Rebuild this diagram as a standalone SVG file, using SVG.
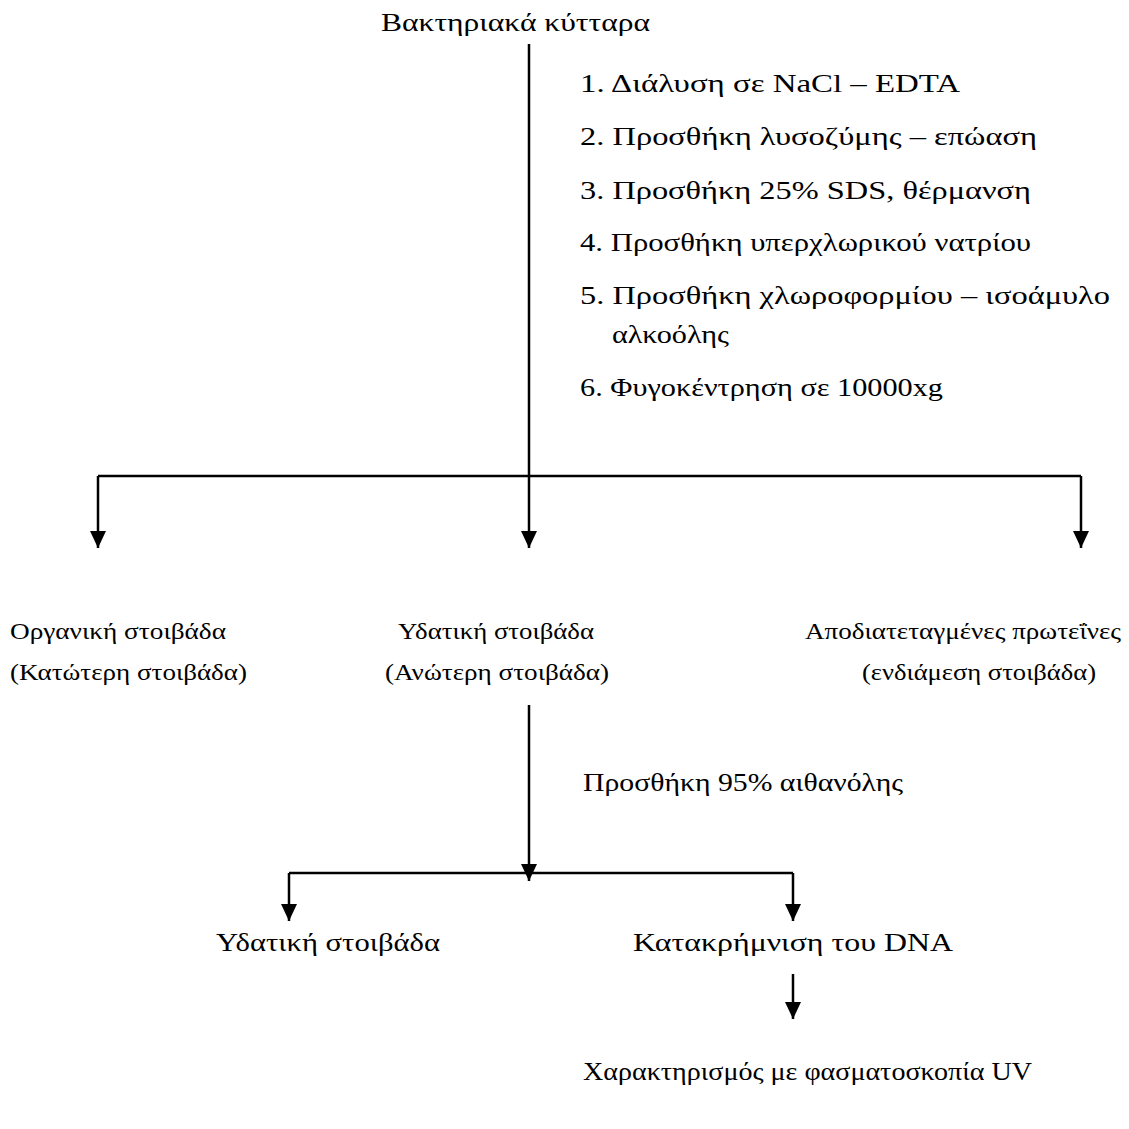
<svg xmlns="http://www.w3.org/2000/svg" width="1129" height="1129" viewBox="0 0 1129 1129">
<defs>
<style>
.t{font-family:"Liberation Serif","Times New Roman",serif;font-size:26px;fill:#000}
.s{font-family:"Liberation Serif","Times New Roman",serif;font-size:22.5px;fill:#000}
.c{stroke:#000;stroke-width:2.5;fill:none}
.a{marker-end:url(#ah)}
</style>
<marker id="ah" markerWidth="17" markerHeight="16" viewBox="0 0 17 16" refX="17" refY="8" orient="auto" markerUnits="userSpaceOnUse">
<path d="M0,0 L17,8 L0,16 Z" fill="#000"/>
</marker>
</defs>
<rect width="1129" height="1129" fill="#fff"/>
<g id="connectors">
<line class="c" x1="529" y1="44" x2="529" y2="476"/>
<line class="c" x1="98" y1="476" x2="1081" y2="476"/>
<line class="c a" x1="98" y1="476" x2="98" y2="548"/>
<line class="c a" x1="529" y1="476" x2="529" y2="548"/>
<line class="c a" x1="1081" y1="476" x2="1081" y2="548"/>
<line class="c a" x1="529" y1="705" x2="529" y2="881"/>
<line class="c" x1="289" y1="873" x2="793" y2="873"/>
<line class="c a" x1="289" y1="873" x2="289" y2="921"/>
<line class="c a" x1="793" y1="873" x2="793" y2="921"/>
<line class="c a" x1="793" y1="974" x2="793" y2="1019"/>
</g>
<g id="n-start"><text class="t" x="381" y="31" textLength="269" lengthAdjust="spacingAndGlyphs">Βακτηριακά κύτταρα</text></g>
<g id="n-steps">
<text class="t" x="580" y="92" textLength="380" lengthAdjust="spacingAndGlyphs">1. Διάλυση σε NaCl – EDTA</text>
<text class="t" x="580" y="145" textLength="457" lengthAdjust="spacingAndGlyphs">2. Προσθήκη λυσοζύμης – επώαση</text>
<text class="t" x="580" y="199" textLength="451" lengthAdjust="spacingAndGlyphs">3. Προσθήκη 25% SDS, θέρμανση</text>
<text class="t" x="580" y="251" textLength="451" lengthAdjust="spacingAndGlyphs">4. Προσθήκη υπερχλωρικού νατρίου</text>
<text class="t" x="580" y="304" textLength="530" lengthAdjust="spacingAndGlyphs">5. Προσθήκη χλωροφορμίου – ισοάμυλο</text>
<text class="t" x="612" y="343" textLength="117" lengthAdjust="spacingAndGlyphs">αλκοόλης</text>
<text class="t" x="580" y="396" textLength="363" lengthAdjust="spacingAndGlyphs">6. Φυγοκέντρηση σε 10000xg</text>
</g>
<g id="n-organic">
<text class="s" x="10" y="639" textLength="216" lengthAdjust="spacingAndGlyphs">Οργανική στοιβάδα</text>
<text class="s" x="10" y="680" textLength="237" lengthAdjust="spacingAndGlyphs">(Κατώτερη στοιβάδα)</text>
</g>
<g id="n-aqueous">
<text class="s" x="398" y="639" textLength="196" lengthAdjust="spacingAndGlyphs">Υδατική στοιβάδα</text>
<text class="s" x="385" y="680" textLength="224" lengthAdjust="spacingAndGlyphs">(Ανώτερη στοιβάδα)</text>
</g>
<g id="n-proteins">
<text class="s" x="805" y="639" textLength="316" lengthAdjust="spacingAndGlyphs">Αποδιατεταγμένες πρωτεΐνες</text>
<text class="s" x="862" y="680" textLength="234" lengthAdjust="spacingAndGlyphs">(ενδιάμεση στοιβάδα)</text>
</g>
<g id="n-ethanol"><text class="t" x="583" y="791" textLength="320" lengthAdjust="spacingAndGlyphs">Προσθήκη 95% αιθανόλης</text></g>
<g id="n-aq2"><text class="t" x="216" y="951" textLength="224" lengthAdjust="spacingAndGlyphs">Υδατική στοιβάδα</text></g>
<g id="n-dna"><text class="t" x="633" y="951" textLength="320" lengthAdjust="spacingAndGlyphs">Κατακρήμνιση του DNA</text></g>
<g id="n-uv"><text class="t" x="583" y="1080" textLength="449" lengthAdjust="spacingAndGlyphs">Χαρακτηρισμός με φασματοσκοπία UV</text></g>
</svg>
